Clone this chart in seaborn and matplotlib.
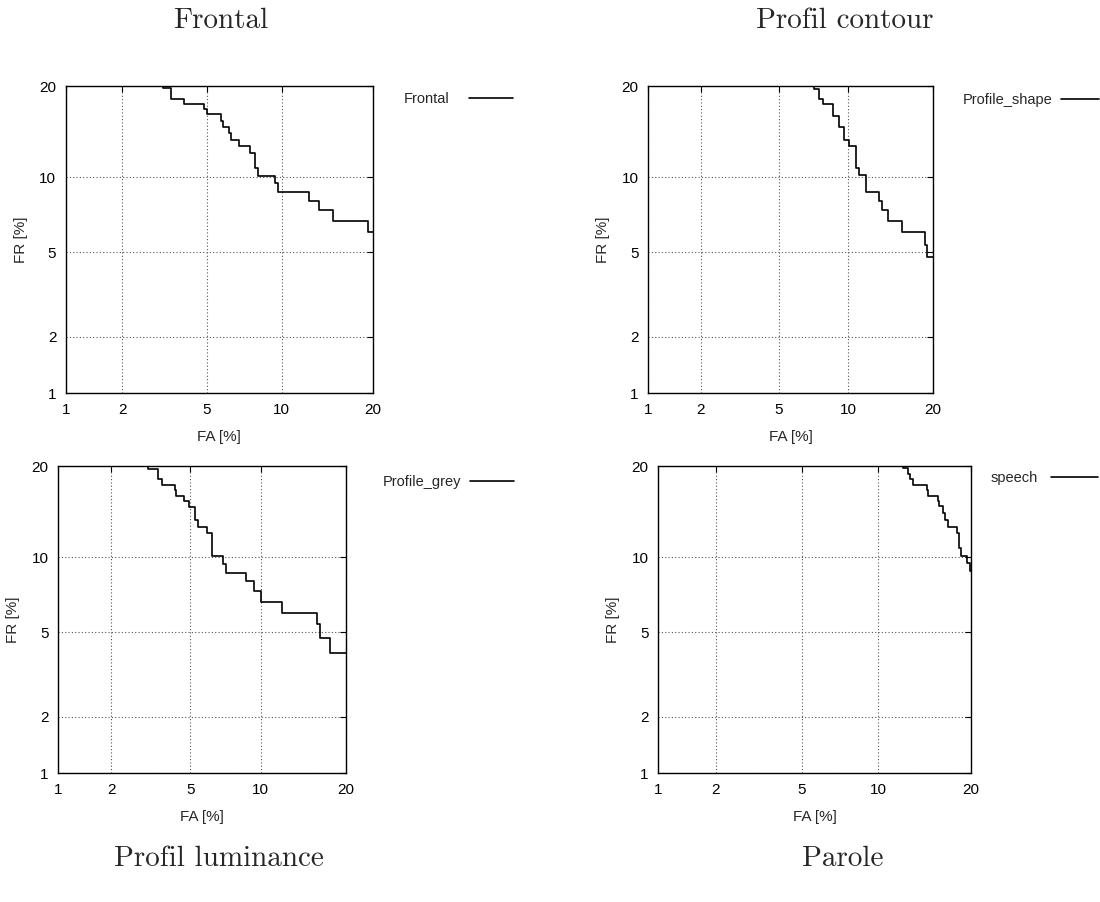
import math
import numpy as np
import pandas as pd
import matplotlib
matplotlib.use("Agg")
import matplotlib.pyplot as plt
import seaborn as sns
from matplotlib.ticker import FixedLocator, FixedFormatter, NullLocator

# ---------------- data (values in %) ----------------
titles = ["Frontal", "Profil contour", "Profil luminance", "Parole"]
legend_names = ["Frontal", "Profile_shape", "Profile_grey", "speech"]
tick_values = [1, 2, 5, 10, 20]
tick_labels = ["1", "2", "5", "10", "20"]

fa_frontal = [3.18, 3.18, 3.45, 3.95, 4.87, 5.00, 5.75, 5.88, 6.21, 6.33, 6.85,
              7.56, 7.91, 8.15, 9.43, 9.66, 12.48, 13.57, 15.10, 19.33, 20.0]
fr_frontal = [20.0, 19.69, 18.29, 17.70, 17.00, 16.39, 15.65, 14.92, 14.22, 13.55, 12.89,
              12.16, 10.79, 10.12, 9.48, 8.82, 8.12, 7.46, 6.76, 6.10, 6.10]

fa_shape = [7.20, 7.20, 7.56, 7.84, 8.69, 9.14, 9.63, 10.05, 10.71, 11.04, 11.67,
            13.10, 13.47, 14.16, 15.78, 18.85, 19.18, 20.0]
fr_shape = [20.0, 19.65, 18.34, 17.62, 16.24, 14.96, 13.52, 12.90, 10.80, 10.16, 8.80,
            8.12, 7.47, 6.77, 6.09, 5.38, 4.75, 4.75]

fa_grey = [3.13, 3.13, 3.52, 3.66, 4.23, 4.27, 4.69, 4.93, 5.27, 5.44, 5.96,
           6.28, 6.97, 7.19, 8.69, 9.40, 10.05, 12.11, 16.04, 16.43, 17.73, 20.0]
fr_grey = [20.0, 19.62, 18.26, 17.59, 16.89, 16.23, 15.57, 14.87, 13.49, 12.80, 12.18,
           10.07, 9.42, 8.74, 8.10, 7.41, 6.71, 6.05, 5.40, 4.70, 4.03, 4.03]

fa_speech = [12.24, 12.24, 12.74, 12.92, 13.26, 14.65, 14.78, 15.89, 16.05, 16.56,
             16.72, 17.16, 18.23, 18.54, 18.69, 19.56, 19.85, 20.0]
fr_speech = [20.0, 19.67, 18.93, 18.29, 17.59, 16.91, 16.23, 15.57, 15.04, 14.31,
             13.51, 12.84, 12.19, 10.79, 10.09, 9.50, 8.87, 8.87]

series = [(fa_frontal, fr_frontal), (fa_shape, fr_shape),
          (fa_grey, fr_grey), (fa_speech, fr_speech)]

# ---------------- normal-deviate (DET) scale ----------------
_a = [-3.969683028665376e+01, 2.209460984245205e+02, -2.759285104469687e+02,
      1.383577518672690e+02, -3.066479806614716e+01, 2.506628277459239e+00]
_b = [-5.447609879822406e+01, 1.615858368580409e+02, -1.556989798598866e+02,
      6.680131188771972e+01, -1.328068155288572e+01]
_c = [-7.784894002430293e-03, -3.223964580411365e-01, -2.400758277161838e+00,
      -2.549732539343734e+00, 4.374664141464968e+00, 2.938163982698783e+00]
_d = [7.784695709041462e-03, 3.224671290700398e-01, 2.445134137142996e+00,
      3.754408661907416e+00]


def _ppf(p):
    plow = 0.02425
    if p < plow:
        q = math.sqrt(-2 * math.log(p))
        return (((((_c[0]*q + _c[1])*q + _c[2])*q + _c[3])*q + _c[4])*q + _c[5]) / \
               ((((_d[0]*q + _d[1])*q + _d[2])*q + _d[3])*q + 1)
    if p <= 1 - plow:
        q = p - 0.5
        r = q * q
        return (((((_a[0]*r + _a[1])*r + _a[2])*r + _a[3])*r + _a[4])*r + _a[5])*q / \
               (((((_b[0]*r + _b[1])*r + _b[2])*r + _b[3])*r + _b[4])*r + 1)
    q = math.sqrt(-2 * math.log(1 - p))
    return -(((((_c[0]*q + _c[1])*q + _c[2])*q + _c[3])*q + _c[4])*q + _c[5]) / \
           ((((_d[0]*q + _d[1])*q + _d[2])*q + _d[3])*q + 1)


_vppf = np.vectorize(_ppf, otypes=[float])
_verf = np.vectorize(math.erf, otypes=[float])


def probit_fwd(v):
    arr = np.asarray(v, dtype=float)
    p = np.clip(arr / 100.0, 1e-12, 1 - 1e-12)
    return _vppf(p)


def probit_inv(u):
    arr = np.asarray(u, dtype=float)
    return 100.0 * 0.5 * (1.0 + _verf(arr / math.sqrt(2.0)))


# ---------------- figure ----------------
sns.set_style("white")
plt.rcParams["font.family"] = ["Liberation Sans", "DejaVu Sans"]

W, H = 1100, 902
fig = plt.figure(figsize=(W / 100, H / 100), dpi=100)

# axes boxes in pixels: left, right, top, bottom
boxes = [(66, 372.5, 86, 393.3), (648.3, 932.7, 86, 393.3),
         (58.3, 346, 466, 773.3), (658.3, 970.7, 466, 773.3)]
legend_anchor_px = [(512.7, 99), (1099, 100), (514, 482), (1098, 478)]
legend_gap = [1.35, 0.6, 0.6, 0.9]
legend_len = [3.0, 2.6, 3.0, 3.2]
title_pos = [(221, 28), (845, 28), (219, 866), (843, 866)]

for i, (l, r, t, b) in enumerate(boxes):
    ax = fig.add_axes([l / W, (H - b) / H, (r - l) / W, (b - t) / H])
    fa, fr = series[i]
    df = pd.DataFrame({"FA": fa, "FR": fr})
    sns.lineplot(data=df, x="FA", y="FR", ax=ax, estimator=None, sort=False,
                 drawstyle="steps-post", color="black", linewidth=1.2,
                 label=legend_names[i])
    ax.set_xscale("function", functions=(probit_fwd, probit_inv))
    ax.set_yscale("function", functions=(probit_fwd, probit_inv))
    ax.set_xlim(1, 20)
    ax.set_ylim(1, 20)
    for axis in (ax.xaxis, ax.yaxis):
        axis.set_major_locator(FixedLocator(tick_values))
        axis.set_major_formatter(FixedFormatter(tick_labels))
        axis.set_minor_locator(NullLocator())
    ax.tick_params(direction="in", length=4, width=0.8, top=True, right=True,
                   labelsize=11, pad=7, colors="black")
    ax.grid(True, linestyle=(0, (1, 2)), color="#555555", linewidth=0.8)
    for s in ax.spines.values():
        s.set_color("black")
        s.set_linewidth(1.0)
        s.set_visible(True)
    ax.set_xlabel("FA [%]", fontsize=11)
    ax.set_ylabel("FR [%]", fontsize=11)
    wpx, hpx = r - l, b - t
    ax.xaxis.set_label_coords(0.5, -37 / hpx)
    ax.yaxis.set_label_coords(-38 / wpx, 0.5)
    lx, ly = legend_anchor_px[i]
    ax.legend(loc="center right", bbox_to_anchor=((lx - l) / wpx, (b - ly) / hpx),
              markerfirst=False, frameon=False, borderpad=0, borderaxespad=0,
              handlelength=legend_len[i], handletextpad=legend_gap[i], fontsize=10.5)
    tx, ty = title_pos[i]
    fig.text(tx / W, 1 - ty / H, titles[i], family="cmr10", fontsize=21,
             ha="center", va="baseline")

fig.savefig("out.png", dpi=100)
